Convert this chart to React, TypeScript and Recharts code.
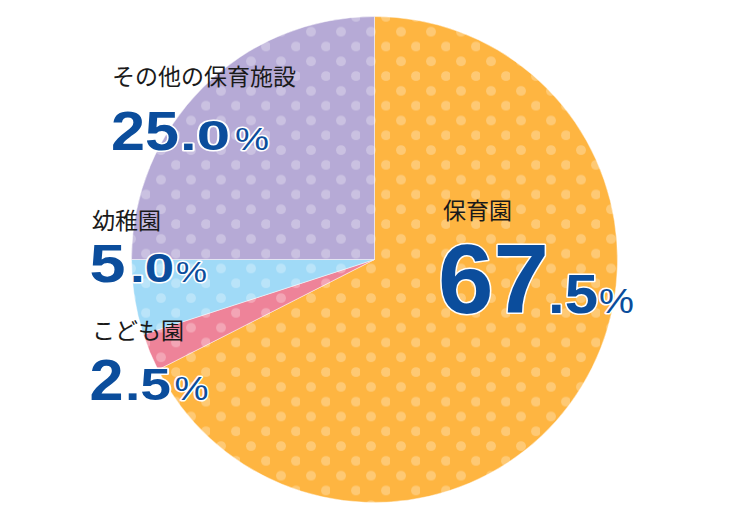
import { PieChart, Pie, Cell } from "recharts";

const NAMES = ["保育園", "こども園", "幼稚園", "その他の保育施設"];
const VALUES = [67.5, 2.5, 5.0, 25.0];
const COLORS = ["#FEB541", "#EE8399", "#A0DAF7", "#B6AAD6"];

// where each label sits: name text, then the three parts of the number [x, fontSize, width]
type Layout = { lx: number; ly: number; base: number; parts: number[][] };
const LAYOUT: Record<string, Layout> = {
  保育園: { lx: 443, ly: 219, base: 313, parts: [[438, 99, 111], [548, 56, 50], [599, 35, 35]] },
  こども園: { lx: 92, ly: 339, base: 400, parts: [[89.5, 58, 34], [125, 44, 46], [174.5, 34, 34]] },
  幼稚園: { lx: 92, ly: 229, base: 282, parts: [[89.5, 54, 36], [130, 40, 44], [176, 30, 31]] },
  その他の保育施設: { lx: 112, ly: 85, base: 150, parts: [[111, 56, 68], [180, 42, 50], [235, 32, 34]] },
};

const data = NAMES.map((name, i) => ({ name, value: VALUES[i] }));

const NUM_FONT = '"Liberation Sans", Arial, Helvetica, sans-serif';
const JP_FONT = '"Noto Sans CJK JP", "Noto Sans", sans-serif';

function ValueLabel({ name, value }: { name: string; value: number }) {
  const lay = LAYOUT[name];
  if (!lay) return null;
  const [intPart, decPart] = Number(value).toFixed(1).split(".");
  const strs = [intPart, "." + decPart, "%"];
  return (
    <g>
      <text x={lay.lx} y={lay.ly} fontFamily={JP_FONT} fontSize={23} fill="#1a1a1a">
        {name}
      </text>
      {strs.map((s, i) => {
        const [x, size, w] = lay.parts[i];
        return (
          <text
            key={i}
            x={x}
            y={lay.base}
            fontFamily={NUM_FONT}
            fontSize={size}
            fontWeight={i < 2 ? "bold" : "normal"}
            textLength={w}
            lengthAdjust="spacingAndGlyphs"
            fill="#0B4D9C"
            stroke="#fff"
            strokeWidth={3}
            strokeLinejoin="round"
            paintOrder="stroke"
          >
            {s}
          </text>
        );
      })}
    </g>
  );
}

export default function App() {
  return (
    <div style={{ position: "absolute", left: 0, top: 0, width: 751, height: 520, background: "#fff" }}>
      <PieChart width={751} height={520} margin={{ top: 0, right: 0, bottom: 0, left: 0 }}>
        <defs>
          {COLORS.map((c, i) => (
            <pattern
              key={i}
              id={`dots-${i}`}
              patternUnits="userSpaceOnUse"
              x={0}
              y={0}
              width={30}
              height={29.6}
            >
              <rect width={30} height={29.6} fill={c} />
              <circle cx={11} cy={2.1} r={4.9} fill="#fff" fillOpacity={0.27} />
              <circle cx={26} cy={16.9} r={4.9} fill="#fff" fillOpacity={0.27} />
              <circle cx={11} cy={31.7} r={4.9} fill="#fff" fillOpacity={0.27} />
            </pattern>
          ))}
        </defs>
        <Pie
          data={data}
          dataKey="value"
          nameKey="name"
          cx={374.5}
          cy={259.5}
          innerRadius={0}
          outerRadius={243}
          startAngle={90}
          endAngle={-270}
          stroke="rgba(255,255,255,0.45)"
          strokeWidth={1}
          isAnimationActive={false}
          labelLine={false}
          label={(p: any) => (
            <ValueLabel name={p.payload?.name ?? p.name} value={p.payload?.value ?? p.value} />
          )}
        >
          {data.map((_, i) => (
            <Cell key={i} fill={`url(#dots-${i})`} />
          ))}
        </Pie>
      </PieChart>
    </div>
  );
}
